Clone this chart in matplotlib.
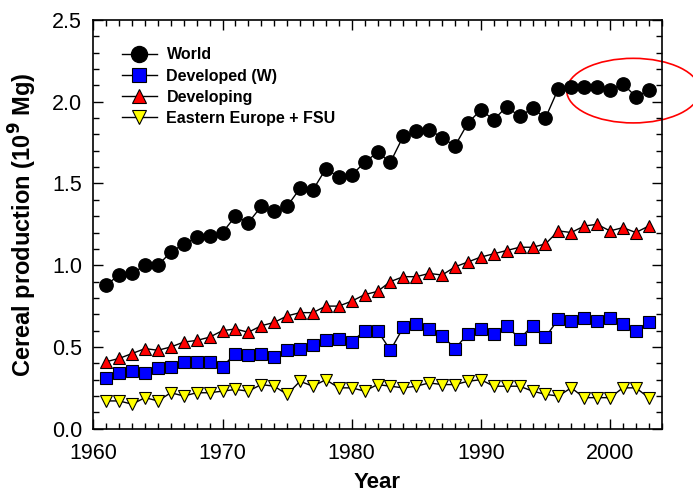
import matplotlib
matplotlib.use("Agg")
import matplotlib.pyplot as plt
from matplotlib.patches import Ellipse
from matplotlib.ticker import MultipleLocator, FormatStrFormatter

plt.rcParams['font.family'] = ['Liberation Sans', 'DejaVu Sans']

# cereal production, 10^9 Mg, 1961-2003
years = list(range(1961, 2004))

world = [0.88, 0.94, 0.95, 1.00, 1.00, 1.08, 1.13, 1.17, 1.18, 1.20,
         1.30, 1.26, 1.36, 1.33, 1.36, 1.47, 1.46, 1.59, 1.54, 1.55,
         1.63, 1.69, 1.63, 1.79, 1.82, 1.83, 1.78, 1.73, 1.87, 1.95,
         1.89, 1.97, 1.91, 1.96, 1.90, 2.08, 2.09, 2.09, 2.09, 2.07,
         2.11, 2.03, 2.07]

developed = [0.31, 0.34, 0.35, 0.34, 0.37, 0.38, 0.41, 0.41, 0.41, 0.38,
             0.46, 0.45, 0.46, 0.44, 0.48, 0.49, 0.51, 0.54, 0.55, 0.53,
             0.60, 0.60, 0.48, 0.62, 0.64, 0.61, 0.57, 0.49, 0.58, 0.61,
             0.58, 0.63, 0.55, 0.63, 0.56, 0.67, 0.66, 0.68, 0.66, 0.68,
             0.64, 0.60, 0.65]

developing = [0.41, 0.43, 0.46, 0.49, 0.48, 0.50, 0.53, 0.54, 0.56, 0.60,
              0.61, 0.59, 0.63, 0.65, 0.69, 0.71, 0.71, 0.75, 0.75, 0.78,
              0.82, 0.84, 0.90, 0.93, 0.93, 0.95, 0.94, 0.99, 1.02, 1.05,
              1.07, 1.09, 1.11, 1.11, 1.13, 1.21, 1.20, 1.24, 1.25, 1.21,
              1.23, 1.20, 1.24]

eastern = [0.17, 0.17, 0.15, 0.19, 0.17, 0.22, 0.20, 0.22, 0.22, 0.23,
           0.24, 0.23, 0.27, 0.26, 0.21, 0.29, 0.26, 0.30, 0.25, 0.25,
           0.23, 0.27, 0.26, 0.25, 0.26, 0.28, 0.27, 0.27, 0.29, 0.30,
           0.26, 0.26, 0.26, 0.23, 0.21, 0.20, 0.25, 0.19, 0.19, 0.19,
           0.25, 0.25, 0.19]

fig = plt.figure(figsize=(6.93, 4.95), dpi=100)
ax = fig.add_axes([0.1347, 0.1339, 0.8201, 0.8257])

ax.plot(years, world, '-o', color='black', lw=1, markersize=9.6,
        markerfacecolor='black', markeredgecolor='black', label='World')
ax.plot(years, developed, '-s', color='black', lw=1, markersize=8.2,
        markerfacecolor='#0000ff', markeredgecolor='black', markeredgewidth=0.8,
        label='Developed (W)')
ax.plot(years, developing, '-^', color='black', lw=1, markersize=8.6,
        markerfacecolor='#ff0000', markeredgecolor='black', markeredgewidth=0.8,
        label='Developing')
ax.plot(years, eastern, '-v', color='black', lw=1, markersize=8.6,
        markerfacecolor='#ffff00', markeredgecolor='black', markeredgewidth=0.8,
        label='Eastern Europe + FSU')

# highlight of the last years
ell = Ellipse((2001.8, 2.068), 10.3, 0.395, fill=False, edgecolor='red',
              lw=1.2, clip_on=False)
ax.add_patch(ell)

ax.set_xlim(1960, 2004)
ax.set_ylim(0, 2.5)
ax.xaxis.set_major_locator(MultipleLocator(10))
ax.xaxis.set_minor_locator(MultipleLocator(1))
ax.yaxis.set_major_locator(MultipleLocator(0.5))
ax.yaxis.set_minor_locator(MultipleLocator(0.1))
ax.yaxis.set_major_formatter(FormatStrFormatter('%.1f'))

ax.tick_params(which='both', direction='in', top=True, right=True,
               labelsize=15.5, width=1)
ax.tick_params(axis='x', pad=10)
ax.tick_params(axis='y', pad=8)
ax.tick_params(which='major', length=7)
ax.tick_params(which='minor', length=4)
for sp in ax.spines.values():
    sp.set_linewidth(1.2)

ax.set_xlabel('Year', fontsize=16, fontweight='bold', labelpad=6)
ax.set_ylabel('Cereal production (10$^\\mathbf{9}$ Mg)', fontsize=17,
              fontweight='bold', labelpad=9)

ax.legend(loc='upper left', bbox_to_anchor=(0.050, 0.933), frameon=False,
          prop={'weight': 'bold', 'size': 11.5}, handlelength=2.2,
          handletextpad=0.6, labelspacing=0.39, borderpad=0, borderaxespad=0,
          markerscale=1.2)

fig.savefig('out.png', dpi=100)
